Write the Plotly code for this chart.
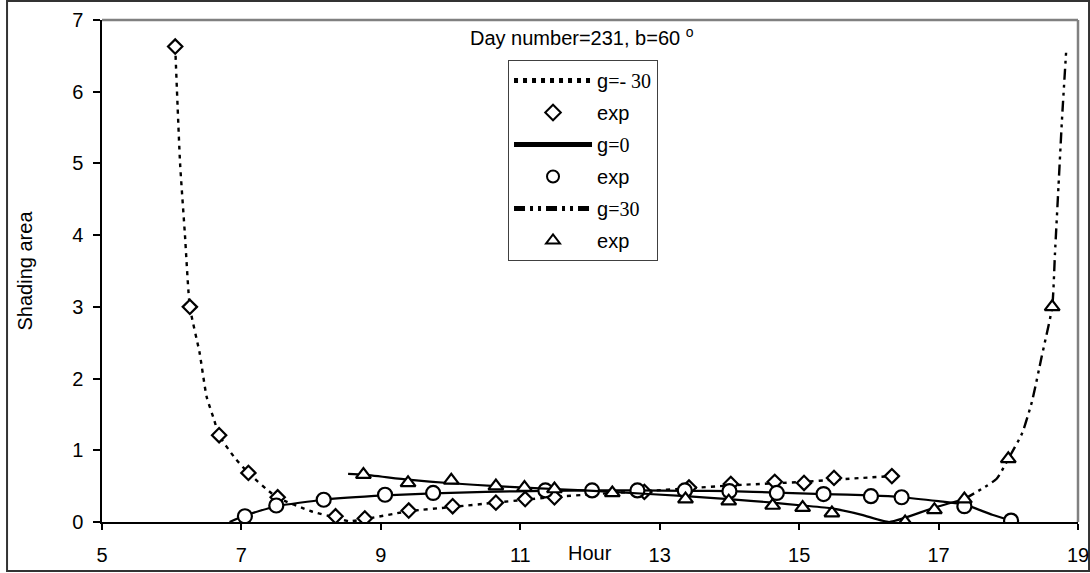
import plotly.graph_objects as go

# ---- data ----
# experimental points
exp_m30_x = [6.05, 6.26, 6.68, 7.10, 7.52, 8.35, 8.77, 9.40, 10.03, 10.65, 11.07, 11.49, 12.78, 13.42, 14.02, 14.65, 15.07, 15.50, 16.33]
exp_m30_y = [6.63, 3.00, 1.21, 0.685, 0.345, 0.08, 0.05, 0.16, 0.22, 0.27, 0.32, 0.345, 0.42, 0.48, 0.53, 0.56, 0.545, 0.615, 0.64]

exp_0_x = [7.05, 7.50, 8.18, 9.06, 9.75, 11.36, 12.03, 12.68, 13.36, 14.00, 14.68, 15.35, 16.03, 16.47, 17.37, 18.04]
exp_0_y = [0.08, 0.23, 0.31, 0.38, 0.405, 0.44, 0.44, 0.44, 0.44, 0.43, 0.405, 0.39, 0.36, 0.345, 0.22, 0.02]

exp_30_x = [8.75, 9.39, 10.01, 10.65, 11.06, 11.49, 12.32, 13.37, 13.99, 14.62, 15.05, 15.47, 16.52, 16.94, 17.37, 18.00, 18.63]
exp_30_y = [0.66, 0.545, 0.58, 0.50, 0.48, 0.46, 0.405, 0.32, 0.29, 0.23, 0.20, 0.125, 0.0, 0.17, 0.32, 0.88, 3.00]

# model curves
mod_m30_x = [6.05, 6.12, 6.19, 6.26, 6.40, 6.50, 6.60, 6.68, 6.90, 7.10, 7.50, 8.00, 8.35, 8.55, 8.77, 9.40, 10.03, 10.65, 11.07, 11.49, 12.10, 12.78, 13.42, 14.02, 14.65, 15.07, 15.50, 16.33]
mod_m30_y = [6.63, 5.00, 4.00, 3.00, 2.36, 1.75, 1.45, 1.21, 0.90, 0.685, 0.35, 0.15, 0.06, 0.01, 0.04, 0.15, 0.21, 0.27, 0.31, 0.35, 0.39, 0.43, 0.47, 0.51, 0.54, 0.56, 0.59, 0.64]

mod_0_x = [6.83, 7.05, 7.50, 8.18, 9.06, 9.75, 10.50, 11.36, 12.03, 12.71, 13.38, 14.00, 14.68, 15.35, 16.03, 16.47, 17.00, 17.37, 17.77, 18.04]
mod_0_y = [0.0, 0.09, 0.22, 0.31, 0.37, 0.40, 0.42, 0.435, 0.44, 0.44, 0.435, 0.43, 0.41, 0.39, 0.37, 0.345, 0.29, 0.245, 0.10, 0.02]

mod_30_mid_x = [8.53, 8.75, 9.39, 10.01, 10.65, 11.06, 11.49, 12.32, 13.37, 13.99, 14.62, 15.05, 15.47, 15.90, 16.29, 16.52, 16.94, 17.37]
mod_30_mid_y = [0.67, 0.66, 0.59, 0.54, 0.50, 0.48, 0.46, 0.42, 0.36, 0.32, 0.27, 0.23, 0.19, 0.10, 0.0, 0.06, 0.20, 0.32]
mod_30_end_x = [17.37, 17.83, 18.00, 18.20, 18.34, 18.48, 18.63, 18.67, 18.72, 18.77, 18.83]
mod_30_end_y = [0.32, 0.60, 0.88, 1.24, 1.68, 2.31, 3.00, 3.75, 4.68, 5.61, 6.56]

x_ticks = [5, 7, 9, 11, 13, 15, 17, 19]
y_ticks = [0, 1, 2, 3, 4, 5, 6, 7]

FONT = "Arial, Liberation Sans, sans-serif"
SERIF = "Times New Roman, Liberation Serif, serif"
FS = 20

def lab(rest):
    return "g<span style='font-family:%s'>%s</span>" % (SERIF, rest)

mk = dict(color="white", line=dict(color="black", width=2.2))

fig = go.Figure()
fig.add_trace(go.Scatter(x=mod_m30_x, y=mod_m30_y, mode="lines", name=lab("=- 30"),
                         line=dict(color="black", width=2.4, dash="4px,5px", shape="spline", smoothing=0.5),
                         legendgroup="a"))
fig.add_trace(go.Scatter(x=exp_m30_x, y=exp_m30_y, mode="markers", name="exp",
                         marker=dict(symbol="diamond", size=11, **mk), legendgroup="b"))
fig.add_trace(go.Scatter(x=mod_0_x, y=mod_0_y, mode="lines", name=lab("=0"),
                         line=dict(color="black", width=2.2, shape="spline", smoothing=0.5),
                         legendgroup="c"))
fig.add_trace(go.Scatter(x=exp_0_x, y=exp_0_y, mode="markers", name="exp",
                         marker=dict(symbol="circle", size=14, **mk), legendgroup="d"))
fig.add_trace(go.Scatter(x=mod_30_end_x, y=mod_30_end_y, mode="lines", name=lab("=30"),
                         line=dict(color="black", width=2.4, dash="11px,5px,3px,5px,3px,5px", shape="spline", smoothing=0.5),
                         legendgroup="e"))
fig.add_trace(go.Scatter(x=mod_30_mid_x, y=mod_30_mid_y, mode="lines", showlegend=False,
                         line=dict(color="black", width=2.2, shape="spline", smoothing=0.5),
                         legendgroup="e"))
fig.add_trace(go.Scatter(x=exp_30_x, y=exp_30_y, mode="markers", name="exp",
                         marker=dict(symbol="triangle-up", size=13, **mk), legendgroup="f"))

fig.update_layout(
    width=1090, height=573, autosize=False,
    margin=dict(l=102, r=12, t=20, b=51),
    paper_bgcolor="white", plot_bgcolor="white",
    font=dict(family=FONT, size=FS, color="black"),
    showlegend=True,
    legend=dict(x=0.416, y=0.9203, xanchor="left", yanchor="top",
                bgcolor="white", bordercolor="#404040", borderwidth=1,
                font=dict(family=FONT, size=FS, color="black"),
                traceorder="grouped", tracegroupgap=3, itemwidth=78,
                itemsizing="constant"),
    xaxis=dict(range=[5, 19], tickvals=x_ticks, ticks="outside", ticklen=6,
               tickcolor="black", tickwidth=1.5, showline=True, linecolor="black", linewidth=1.5,
               showgrid=False, zeroline=False, tickfont=dict(family=FONT, size=FS),
               ticklabelstandoff=8, automargin=False, fixedrange=True),
    yaxis=dict(range=[0, 7], tickvals=y_ticks, ticks="outside", ticklen=7,
               tickcolor="black", tickwidth=1.5, showline=True, linecolor="black", linewidth=1.5,
               showgrid=False, zeroline=False, tickfont=dict(family=FONT, size=FS),
               ticklabelstandoff=6, automargin=False,
               title=dict(text="Shading area", font=dict(family=FONT, size=FS), standoff=34),
               fixedrange=True),
    annotations=[
        dict(text="Day number=231, b=60 <sup>o</sup>", xref="paper", yref="paper",
             x=0.492, y=0.967, xanchor="center", yanchor="middle", showarrow=False,
             font=dict(family=FONT, size=FS)),
        dict(text="Hour", xref="x", yref="paper", x=12.0, y=-0.062,
             xanchor="center", yanchor="middle", showarrow=False,
             font=dict(family=FONT, size=FS)),
    ],
    shapes=[
        dict(type="line", xref="paper", yref="paper", x0=0, x1=1, y0=1, y1=1,
             line=dict(color="#808080", width=2.5)),
        dict(type="line", xref="paper", yref="paper", x0=1, x1=1, y0=0, y1=1,
             line=dict(color="#808080", width=2.5)),
        dict(type="rect", xref="paper", yref="paper", x0=-0.0973, x1=1.0113, y0=-0.0976, y1=1.0378,
             line=dict(color="#333333", width=2), layer="below"),
    ],
)

fig.write_html(
    "out.html",
    config={"responsive": False, "displayModeBar": False},
    post_script="document.documentElement.style.margin='0';document.documentElement.style.overflow='hidden';"
                "document.body.style.margin='0';document.body.style.padding='0';document.body.style.overflow='hidden';",
)
